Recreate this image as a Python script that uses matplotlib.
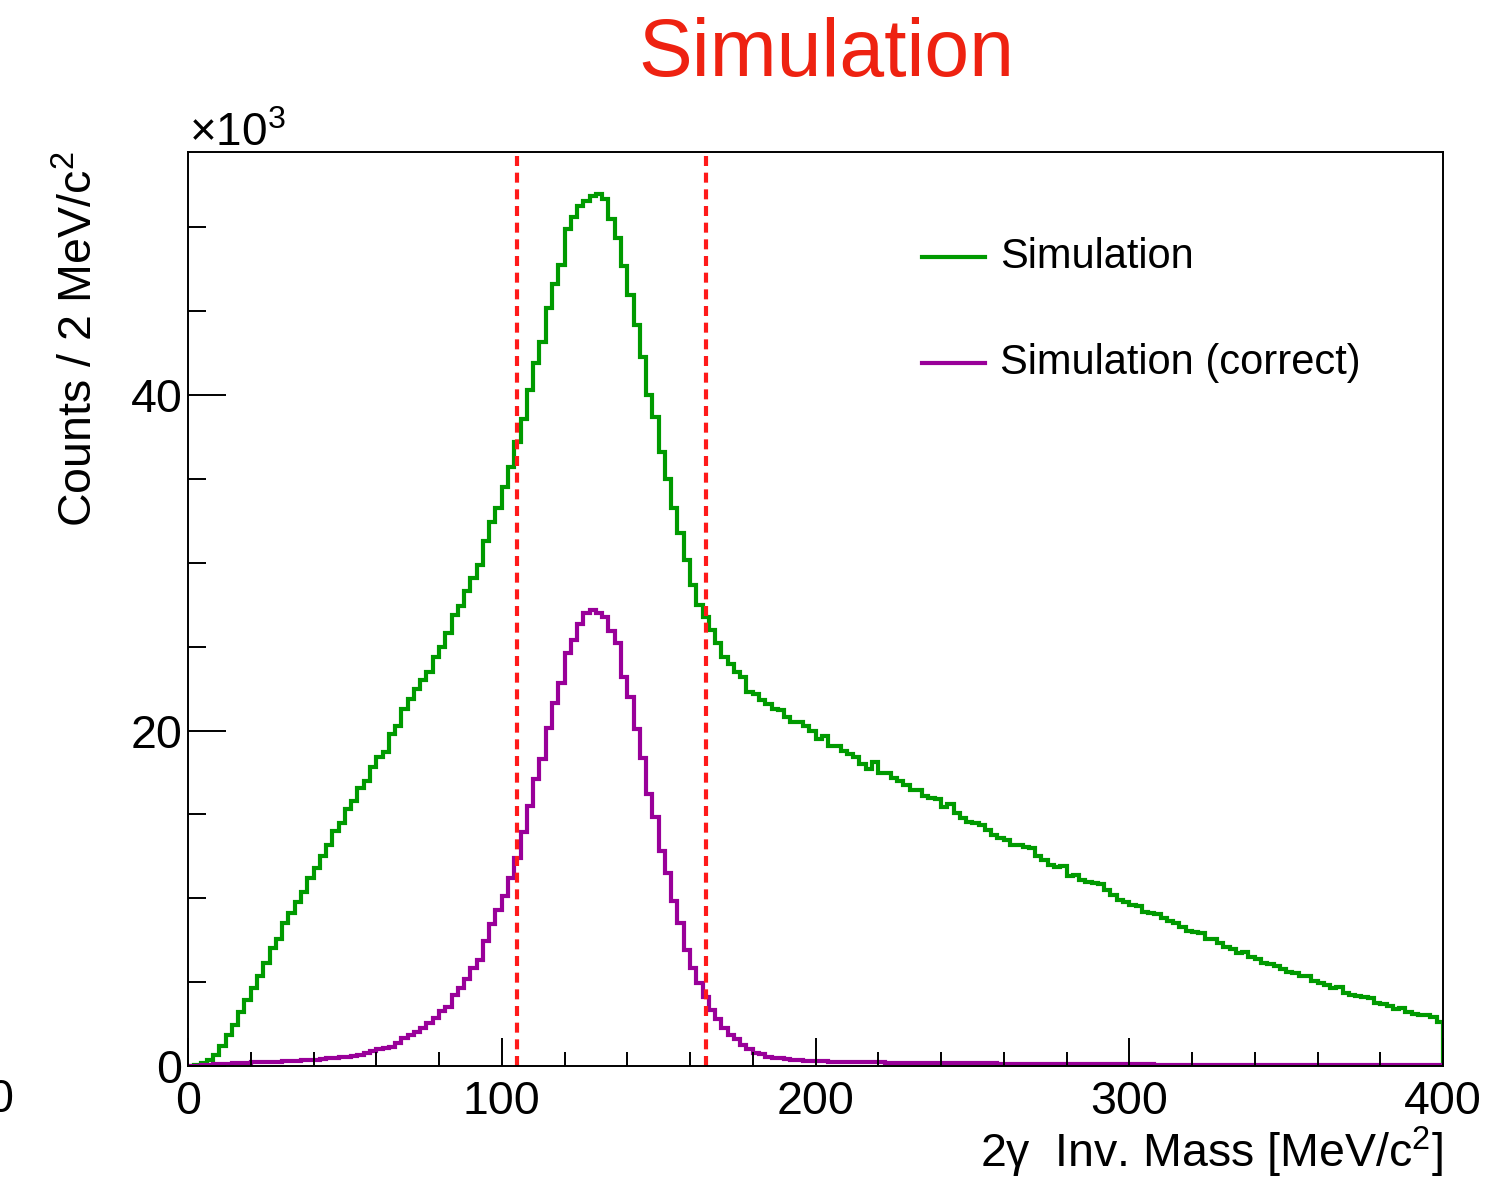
import numpy as np
import matplotlib.pyplot as plt

plt.rcParams['font.family'] = ['Liberation Sans', 'DejaVu Sans']
plt.rcParams['mathtext.fontset'] = 'custom'
plt.rcParams['mathtext.rm'] = 'Liberation Sans'
plt.rcParams['mathtext.it'] = 'Liberation Sans:italic'

# histogram binning (2 MeV bins, 0 - 400 MeV)
x_min, x_max, n_bins = 0, 400, 200
cut_lo, cut_hi = 105, 165

# counts per bin, in units of 10^3
sim_all = [
    0.0, 0.05, 0.15, 0.35, 0.66, 1.2, 1.85, 2.44, 3.2, 3.93,
    4.67, 5.37, 6.14, 7.05, 7.6, 8.5, 9.1, 9.8, 10.4, 11.2,
    11.8, 12.5, 13.2, 14.0, 14.5, 15.3, 15.8, 16.6, 17.0, 17.8,
    18.4, 18.7, 19.8, 20.3, 21.3, 21.9, 22.5, 23.0, 23.5, 24.4,
    25.0, 25.8, 26.9, 27.4, 28.3, 29.1, 29.9, 31.3, 32.45, 33.25,
    34.5, 35.7, 37.2, 38.6, 40.3, 41.9, 43.2, 45.2, 46.6, 47.75,
    49.9, 50.6, 51.3, 51.6, 51.9, 52.0, 51.7, 50.5, 49.4, 47.7,
    45.96, 44.2, 42.3, 40.0, 38.7, 36.6, 35.0, 33.25, 31.8, 30.2,
    28.7, 27.5, 26.8, 26.0, 25.2, 24.4, 24.0, 23.5, 23.2, 22.3,
    22.2, 21.8, 21.6, 21.3, 21.2, 20.8, 20.5, 20.5, 20.3, 20.0,
    19.5, 19.7, 19.1, 19.1, 18.8, 18.6, 18.4, 18.0, 17.7, 18.1,
    17.5, 17.5, 17.2, 17.0, 16.75, 16.45, 16.45, 16.1, 15.96, 15.9,
    15.46, 15.6, 15.1, 14.8, 14.56, 14.5, 14.4, 14.1, 13.77, 13.57,
    13.5, 13.2, 13.17, 13.07, 12.98, 12.5, 12.3, 12.0, 11.85, 11.9,
    11.3, 11.4, 11.1, 11.0, 10.93, 10.85, 10.5, 10.2, 9.9, 9.8,
    9.6, 9.54, 9.2, 9.14, 9.06, 8.8, 8.64, 8.54, 8.26, 8.07,
    8.0, 7.95, 7.55, 7.55, 7.35, 7.1, 6.96, 6.75, 6.81, 6.48,
    6.36, 6.12, 6.08, 5.96, 5.76, 5.62, 5.56, 5.37, 5.37, 5.07,
    4.97, 4.83, 4.63, 4.73, 4.37, 4.23, 4.17, 4.13, 4.04, 3.74,
    3.7, 3.58, 3.38, 3.44, 3.24, 3.1, 3.04, 3.04, 2.94, 2.64,
]
sim_correct = [
    0.0, 0.02, 0.05, 0.08, 0.1, 0.12, 0.14, 0.16, 0.18, 0.2,
    0.22, 0.23, 0.24, 0.25, 0.26, 0.28, 0.3, 0.31, 0.33, 0.35,
    0.38, 0.41, 0.45, 0.48, 0.52, 0.56, 0.6, 0.66, 0.79, 0.92,
    1.0, 1.08, 1.15, 1.35, 1.65, 1.85, 2.05, 2.29, 2.54, 2.84,
    3.3, 3.54, 4.23, 4.63, 5.17, 5.82, 6.35, 7.43, 8.45, 9.32,
    10.16, 11.19, 12.38, 13.97, 15.5, 17.09, 18.28, 20.13, 21.62, 22.81,
    24.6, 25.43, 26.33, 27.02, 27.22, 27.02, 26.78, 25.95, 25.23, 23.17,
    21.98, 20.07, 18.34, 16.21, 14.86, 12.84, 11.49, 9.86, 8.5, 6.92,
    5.82, 4.95, 4.13, 3.36, 2.78, 2.28, 1.85, 1.59, 1.25, 1.0,
    0.8, 0.7, 0.56, 0.48, 0.45, 0.4, 0.37, 0.34, 0.32, 0.3,
    0.28, 0.27, 0.26, 0.25, 0.24, 0.23, 0.23, 0.22, 0.22, 0.21,
    0.21, 0.2, 0.2, 0.19, 0.19, 0.19, 0.18, 0.18, 0.18, 0.17,
    0.17, 0.17, 0.16, 0.16, 0.16, 0.15, 0.15, 0.15, 0.15, 0.14,
    0.14, 0.14, 0.13, 0.13, 0.13, 0.13, 0.12, 0.12, 0.12, 0.12,
    0.11, 0.11, 0.11, 0.11, 0.1, 0.1, 0.1, 0.1, 0.1, 0.09,
    0.09, 0.09, 0.09, 0.09, 0.08, 0.08, 0.08, 0.08, 0.08, 0.08,
    0.07, 0.07, 0.07, 0.07, 0.07, 0.07, 0.06, 0.06, 0.06, 0.06,
    0.06, 0.06, 0.06, 0.06, 0.05, 0.05, 0.05, 0.05, 0.05, 0.05,
    0.05, 0.05, 0.05, 0.05, 0.04, 0.04, 0.04, 0.04, 0.04, 0.04,
    0.04, 0.04, 0.04, 0.04, 0.03, 0.03, 0.03, 0.03, 0.03, 0.03,
]
labels = ['Simulation', 'Simulation (correct)']
colors = ['#009a00', '#990099']

edges = np.linspace(x_min, x_max, n_bins + 1)

fig = plt.figure(figsize=(15, 11.78), dpi=100)
ax = fig.add_axes([188 / 1500, 112 / 1178, 1255 / 1500, 914 / 1178])

ax.stairs(sim_all, edges, color=colors[0], linewidth=3)
ax.stairs(sim_correct, edges, color=colors[1], linewidth=3)

for xc in [cut_lo, cut_hi]:
    ax.axvline(xc, color='#ff1a1a', linewidth=3, linestyle=(0, (2.4, 1.6)))

ax.set_xlim(x_min, x_max)
ax.set_ylim(0, 54.5)

ax.set_xticks([0, 100, 200, 300, 400])
ax.set_xticks(np.arange(0, 401, 20), minor=True)
ax.set_yticks([0, 20, 40])
ax.set_yticks(np.arange(0, 55, 5), minor=True)
ax.tick_params(which='both', direction='in', labelsize=33.5, width=1.4)
ax.tick_params(which='major', axis='x', length=20, pad=10)
ax.tick_params(which='minor', axis='x', length=10)
ax.tick_params(which='major', axis='y', length=27, pad=4)
ax.tick_params(which='minor', axis='y', length=13)
for s in ax.spines.values():
    s.set_linewidth(1.4)

# legend
for i, (lab, col) in enumerate(zip(labels, colors)):
    yl = 0.885 - i * 0.116
    ax.plot([0.585, 0.635], [yl, yl], color=col, linewidth=3, transform=ax.transAxes)
    ax.text(0.647, yl, lab, fontsize=30, va='center', ha='left', transform=ax.transAxes)

fig.text(826 / 1500, 1 - 76 / 1178, 'Simulation', color='#ee2211', fontsize=58,
         ha='center', va='baseline')
fig.text(189 / 1500, 1 - 146 / 1178, r'$\times$10$^{3}$', fontsize=33,
         ha='left', va='baseline')
fig.text(80 / 1500, 1 - 152 / 1178, r'Counts / 2 MeV/c$^{2}$', fontsize=33.5,
         rotation=90, ha='center', va='top')
fig.text(1443 / 1500, 1 - 1167 / 1178, r'2γ  Inv. Mass [MeV/c$^{2}$]', fontsize=33.5,
         ha='right', va='baseline')
fig.text(0.0, 1 - 1112 / 1178, '0', fontsize=33.5, ha='center', va='baseline')

fig.savefig('out.png', dpi=100)
